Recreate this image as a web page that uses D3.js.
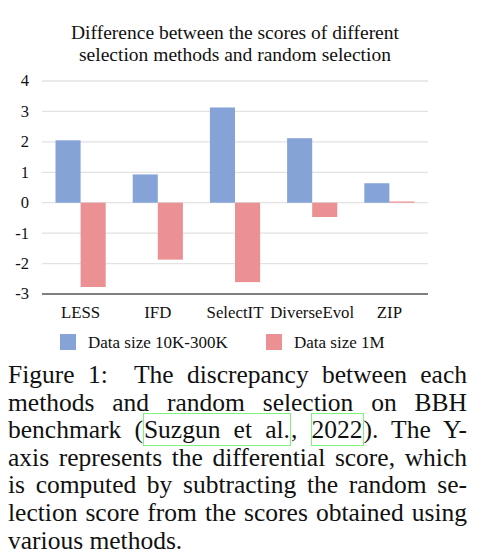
<!DOCTYPE html>
<html>
<head>
<meta charset="utf-8">
<script src="https://cdn.jsdelivr.net/npm/d3@7"></script>
<style>
    body { margin: 0; background: white; font-family: 'Liberation Serif', 'Times New Roman', serif; }
    #chart { position: absolute; left: 0; top: 0; }
    .caption {
        position: absolute;
        left: 8px;
        top: 361px;
        width: 459px;
        font-size: 25.5px;
        line-height: 27.6px;
        color: #111;
    }
    .caption .ln { text-align: justify; text-align-last: justify; white-space: nowrap; }
    .caption .ln.last { text-align: left; text-align-last: left; }
    .cite { border: 1px solid #7cf57c; padding: 1px 0 1px 0; }
</style>
</head>
<body>
<div id="chart"></div>
<div class="caption" id="caption"></div>
<script>
const width = 484;
const height = 356;
const serif = "'Liberation Serif', 'Times New Roman', serif";

const categories = ['LESS', 'IFD', 'SelectIT', 'DiverseEvol', 'ZIP'];
const seriesNames = ['Data size 10K-300K', 'Data size 1M'];
const smallData = [2.05, 0.93, 3.13, 2.12, 0.64];
const largeData = [-2.77, -1.87, -2.61, -0.47, 0.04];
const yTicks = [-3, -2, -1, 0, 1, 2, 3, 4];
const titleLines = [
    'Difference between the scores of different',
    'selection methods and random selection',
];
const captionLines = [
    'Figure 1:&nbsp; The discrepancy between each',
    'methods and random selection on BBH',
    'benchmark (<span class="cite">Suzgun et al.</span>, <span class="cite">2022</span>). The Y-',
    'axis represents the differential score, which',
    'is computed by subtracting the random se-',
    'lection score from the scores obtained using',
    'various methods.',
];

const colors = ['#86a3d8', '#eb9093'];
const margin = { left: 42, right: 56, top: 81, bottom: 62 };

const svg = d3
    .select('#chart')
    .append('svg')
    .attr('width', width)
    .attr('height', height);

const x = d3
    .scaleBand()
    .domain(categories)
    .range([margin.left, width - margin.right])
    .paddingInner(0.35)
    .paddingOuter(0.175);

const xSub = d3
    .scaleBand()
    .domain([0, 1])
    .range([0, x.bandwidth()]);

const y = d3
    .scaleLinear()
    .domain([-3, 4])
    .range([height - margin.bottom, margin.top]);

// gridlines
svg.append('g')
    .selectAll('line')
    .data(yTicks.filter((t) => t !== -3))
    .enter()
    .append('line')
    .attr('x1', margin.left)
    .attr('x2', width - margin.right)
    .attr('y1', (d) => y(d))
    .attr('y2', (d) => y(d))
    .attr('stroke', '#e2e2e2')
    .attr('stroke-width', 1.3);

// y labels
svg.append('g')
    .selectAll('text')
    .data(yTicks)
    .enter()
    .append('text')
    .attr('x', 29)
    .attr('y', (d) => y(d))
    .attr('dy', '0.33em')
    .attr('text-anchor', 'end')
    .attr('font-family', serif)
    .attr('font-size', '16.5px')
    .attr('fill', '#111')
    .text((d) => d);

// bars
const groups = svg
    .append('g')
    .selectAll('g')
    .data(categories)
    .enter()
    .append('g')
    .attr('transform', (d) => `translate(${x(d)},0)`);

groups
    .selectAll('rect')
    .data((d, i) => [smallData[i], largeData[i]])
    .enter()
    .append('rect')
    .attr('x', (d, j) => xSub(j))
    .attr('width', xSub.bandwidth())
    .attr('y', (d) => y(Math.max(0, d)))
    .attr('height', (d) => Math.abs(y(d) - y(0)))
    .attr('fill', (d, j) => colors[j]);

// bottom axis line
svg.append('line')
    .attr('x1', margin.left)
    .attr('x2', width - margin.right)
    .attr('y1', y(-3))
    .attr('y2', y(-3))
    .attr('stroke', '#000')
    .attr('stroke-width', 1);

// category labels
svg.append('g')
    .selectAll('text')
    .data(categories)
    .enter()
    .append('text')
    .attr('x', (d) => x(d) + x.bandwidth() / 2)
    .attr('y', y(-3) + 24)
    .attr('text-anchor', 'middle')
    .attr('font-family', serif)
    .attr('font-size', '16.8px')
    .attr('fill', '#111')
    .text((d) => d);

// title
svg.append('text')
    .attr('x', (margin.left + width - margin.right) / 2)
    .attr('y', 39)
    .attr('text-anchor', 'middle')
    .attr('font-family', serif)
    .attr('font-size', '19.5px')
    .attr('fill', '#111')
    .selectAll('tspan')
    .data(titleLines)
    .enter()
    .append('tspan')
    .attr('x', (margin.left + width - margin.right) / 2)
    .attr('dy', (d, i) => (i === 0 ? 0 : 21.5))
    .text((d) => d);

// legend
const legendX = [60, 266];
const legend = svg
    .append('g')
    .selectAll('g')
    .data(seriesNames)
    .enter()
    .append('g')
    .attr('transform', (d, i) => `translate(${legendX[i]},334)`);

legend
    .append('rect')
    .attr('width', 16)
    .attr('height', 16)
    .attr('fill', (d, i) => colors[i]);

legend
    .append('text')
    .attr('x', 28)
    .attr('y', 14)
    .attr('font-family', serif)
    .attr('font-size', '17px')
    .attr('fill', '#111')
    .text((d) => d);

// caption
d3.select('#caption')
    .selectAll('div')
    .data(captionLines)
    .enter()
    .append('div')
    .attr('class', (d, i) => (i === captionLines.length - 1 ? 'ln last' : 'ln'))
    .html((d) => d);
</script>
</body>
</html>
